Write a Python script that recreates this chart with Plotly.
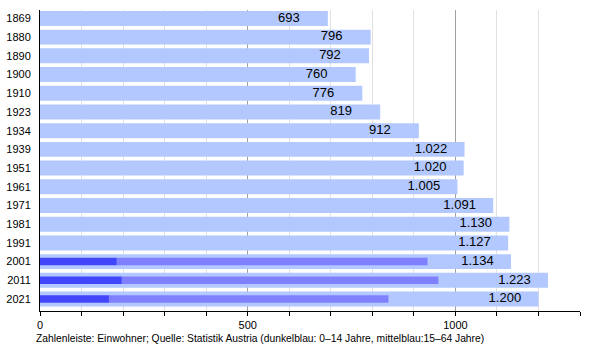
import plotly.graph_objects as go

years = ["1869", "1880", "1890", "1900", "1910", "1923", "1934", "1939",
         "1951", "1961", "1971", "1981", "1991", "2001", "2011", "2021"]
population = [693, 796, 792, 760, 776, 819, 912, 1022,
              1020, 1005, 1091, 1130, 1127, 1134, 1223, 1200]

age_years = ["2001", "2011", "2021"]
age_0_14 = [185, 197, 166]
age_15_64 = [748, 762, 673]

def de_fmt(v):
    return f"{v:,}".replace(",", ".")

LIGHT = "rgb(178,200,255)"
DARK = "rgb(66,70,250)"
MID = "rgb(128,128,255)"

fig = go.Figure()
fig.add_trace(go.Bar(y=years, x=population, orientation="h", width=0.8,
                     marker=dict(color=LIGHT, line=dict(width=0)),
                     hoverinfo="x+y"))
fig.add_trace(go.Bar(y=age_years, x=age_0_14, orientation="h", width=0.4,
                     marker=dict(color=DARK, line=dict(width=0))))
fig.add_trace(go.Bar(y=age_years, x=age_15_64, base=age_0_14, orientation="h",
                     width=0.4, marker=dict(color=MID, line=dict(width=0))))

fig.add_trace(go.Scatter(y=years, x=[p - 120 for p in population], mode="text",
                         text=[de_fmt(p) for p in population],
                         textposition="middle right",
                         textfont=dict(size=13, color="black"),
                         hoverinfo="skip"))

fig.update_layout(
    width=600, height=350,
    margin=dict(l=40, r=20, t=10, b=39),
    barmode="overlay",
    showlegend=False,
    plot_bgcolor="white",
    paper_bgcolor="white",
    font=dict(family="Liberation Sans, Arial, sans-serif", size=11, color="black"),
    bargap=0.2,
)
fig.update_xaxes(
    range=[0, 1300],
    tickvals=[0, 500, 1000],
    ticks="outside", ticklen=4, tickcolor="black",
    showgrid=True, gridcolor="rgb(160,160,160)", gridwidth=1,
    minor=dict(dtick=100, tick0=0, showgrid=True, gridcolor="rgb(225,225,225)",
               ticks="outside", ticklen=4, tickcolor="black"),
    showline=True, linecolor="black", linewidth=1,
    zeroline=False, automargin=False,
    tickfont=dict(size=11),
)
fig.update_yaxes(
    type="category",
    categoryorder="array", categoryarray=years,
    range=[15.64, -0.45],
    showline=True, linecolor="black", linewidth=1,
    ticks="", showgrid=False, automargin=False,
    ticklabelstandoff=6,
    tickfont=dict(size=11),
)
fig.add_annotation(
    text="Zahlenleiste: Einwohner; Quelle: Statistik Austria (dunkelblau: 0–14 Jahre, mittelblau:15–64 Jahre)",
    xref="paper", yref="paper", x=-0.012, y=-0.09, xanchor="left", yanchor="middle",
    showarrow=False, font=dict(size=10.3),
)

fig.write_html("out.html")
